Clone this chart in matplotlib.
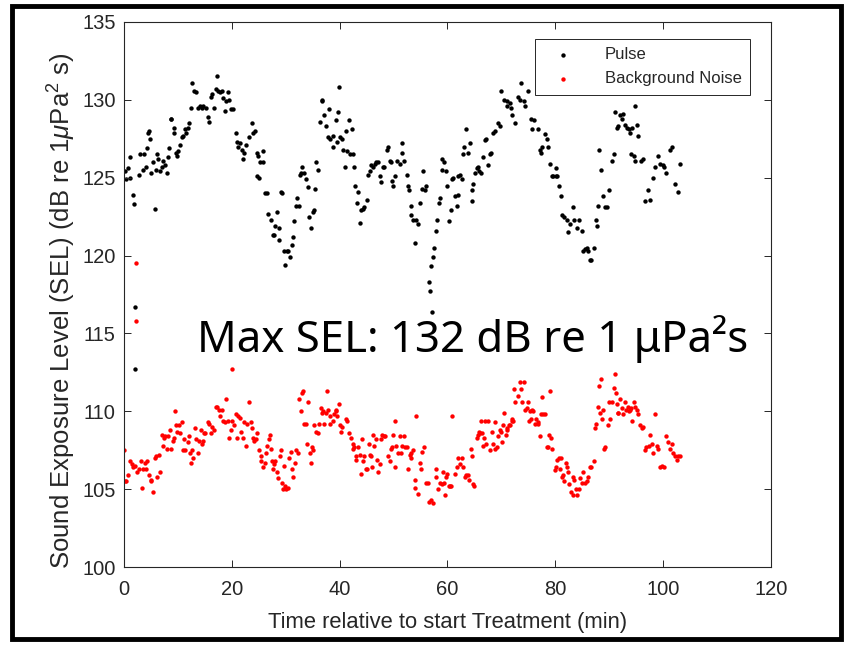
import numpy as np
import matplotlib
matplotlib.use('Agg')
import matplotlib.pyplot as plt
from matplotlib.patches import Rectangle

plt.rcParams['font.family'] = ['Liberation Sans', 'DejaVu Sans']
plt.rcParams['mathtext.fontset'] = 'custom'
plt.rcParams['mathtext.rm'] = 'Liberation Sans'
plt.rcParams['mathtext.it'] = 'Liberation Sans:italic'

# Pulse SEL (time in min, dB re 1 uPa^2 s)
pulse_pts = [
    (0.2,125.4),(0.4,124.9),(0.8,125.6),(1.2,125.0),(1.1,126.3),(1.6,123.9),(1.9,123.3),(2.0,116.7),(2.0,112.7),
    (2.7,125.2),(3.0,126.5),(3.5,125.5),(3.7,126.5),(4.1,125.7),(4.2,126.9),(4.5,127.9),(4.7,128.0),(4.9,127.5),
    (5.1,125.3),(5.3,126.0),(5.7,123.0),(5.9,125.5),(6.2,126.5),(6.4,126.2),(6.7,125.4),(7.0,125.7),(7.3,126.1),
    (7.6,125.8),(7.9,125.3),(8.2,126.3),(8.4,126.9),(8.7,128.8),(8.8,128.8),(9.2,128.2),(9.3,127.9),(9.6,126.6),
    (9.9,126.4),(10.1,126.7),(10.4,127.1),(10.7,127.6),(11.0,127.7),(11.3,128.1),(11.5,127.9),(11.8,128.2),
    (12.1,128.5),(12.4,129.5),(12.7,131.1),(13.0,130.6),(13.4,130.5),(13.8,129.5),(14.1,129.6),(14.4,129.5),
    (14.7,129.6),(15.2,129.5),(15.6,128.9),(15.8,128.6),(16.1,130.2),(16.3,130.4),(16.7,129.5),(17.1,130.7),
    (17.3,131.5),(17.5,130.6),(17.8,130.5),(18.1,130.6),(18.4,130.1),(18.7,129.3),(18.9,129.9),(19.2,130.5),
    (19.5,130.0),(19.8,129.4),(20.3,129.4),(20.8,127.9),(20.9,127.3),(21.2,127.0),(21.5,127.2),(21.8,126.8),
    (22.0,126.2),(22.3,126.6),(22.6,127.1),(23.1,127.6),(23.7,128.5),(24.0,127.9),(24.3,128.0),(24.6,126.6),
    (24.9,126.4),(25.2,126.0),(25.7,126.0),(25.8,126.7),(24.6,125.1),(25.1,125.0),(26.1,124.0),(26.5,124.0),
    (26.8,122.7),(27.2,122.3),(27.6,121.3),(27.8,121.3),(28.0,121.9),(28.3,122.8),(28.8,121.8),(28.7,121.0),
    (29.2,124.1),(29.4,124.0),(29.7,120.3),(29.9,119.4),(30.2,120.3),(30.5,120.3),(30.8,119.9),(31.1,120.7),
    (31.3,121.2),(31.5,122.2),(31.9,123.2),(32.1,123.7),(32.5,123.2),(32.6,125.2),(32.9,125.3),(33.1,125.7),
    (33.4,125.3),(33.8,124.9),(34.2,124.4),(34.4,122.5),(34.6,121.8),(35.0,122.8),(35.2,122.9),(35.4,124.3),
    (35.7,126.0),(36.0,125.5),(36.3,128.6),(36.7,129.9),(36.8,130.0),(37.1,129.0),(37.5,128.3),(37.9,127.6),
    (38.1,129.4),(38.3,127.5),(38.7,127.0),(38.8,127.7),(39.3,128.7),(39.6,127.3),(39.7,129.2),(39.8,130.8),
    (40.1,127.6),(40.4,127.5),(40.7,126.8),(41.0,125.7),(41.2,128.0),(41.3,126.7),(41.8,128.7),(41.9,126.5),
    (42.2,128.1),(42.4,126.5),(42.7,125.7),(42.9,124.5),(43.3,123.4),
    (43.4,124.1),(43.7,122.1),(43.9,122.9),(44.3,123.0),(44.6,123.1),(45.0,123.6),(45.3,125.2),(45.6,125.4),
    (45.9,125.8),(46.2,125.7),(46.5,125.9),(46.8,126.0),(47.1,126.0),(47.4,125.1),(47.6,124.7),(48.0,125.7),
    (48.2,125.7),(48.7,126.8),(49.0,127.0),(49.3,126.1),(49.5,126.0),(49.7,124.8),(49.9,124.5),(50.3,125.1),
    (50.7,126.1),(51.1,125.9),(51.5,126.6),(51.6,127.2),(51.9,126.1),(52.4,125.2),(52.7,124.5),(52.8,124.2),
    (53.2,123.2),(53.3,122.6),(53.6,122.3),(53.9,120.8),(54.2,122.3),(54.6,122.0),(54.9,123.4),(55.2,124.3),
    (55.5,125.4),(55.8,124.2),(56.1,124.5),(56.6,118.3),(56.7,117.7),(57.2,116.4),(56.9,119.3),(57.3,119.9),
    (57.5,120.5),(57.8,121.6),(58.0,122.3),(58.5,123.4),(58.6,123.7),(58.9,126.2),(59.0,125.5),(59.4,126.0),
    (59.8,125.4),(60.0,124.5),(60.2,122.2),(60.6,122.9),(60.9,124.9),(61.1,125.0),(61.4,123.8),(61.7,123.2),
    (61.9,123.9),(62.0,125.1),(62.3,125.2),(62.6,124.9),(62.9,126.5),(63.1,127.0),(63.5,128.1),(63.8,126.6),
    (64.1,127.2),(64.5,124.2),(64.6,123.5),(64.8,124.6),(65.1,125.3),(65.4,125.6),(65.7,125.7),(65.8,125.4),
    (66.3,125.3),(66.6,126.3),(66.9,127.4),(67.2,127.5),(67.6,125.8),(67.9,126.5),(68.0,126.6),(68.5,127.9),
    (68.8,128.0),(69.3,128.5),(69.7,128.3),(70.0,130.6),(70.5,130.0),(71.0,129.9),(71.1,129.6),(71.6,129.8),
    (71.8,129.5),(72.0,129.0),(72.5,128.5),(73.0,130.2),(73.4,130.0),(73.7,131.1),(74.1,129.9),(74.4,129.6),
    (74.9,130.6),(75.5,128.8),(75.7,128.1),(76.1,128.7),(76.7,128.1),(77.2,126.8),(77.3,126.6),(77.6,127.0),
    (78.1,127.8),(78.4,127.5),(78.6,127.0),(79.0,125.9),(79.3,125.1),(79.6,125.1),(80.1,125.1),(80.2,125.6),
    (80.4,125.1),(80.6,124.5),(81.0,123.8),(81.3,122.6),(81.7,122.5),(82.1,122.3),(82.4,121.5),(82.7,122.0),
    (83.2,123.1),(83.5,122.3),(84.0,121.8),(84.3,122.3),(84.9,121.6),(85.2,120.3),(85.5,120.4),(85.8,120.5),
    (86.1,120.3),(86.4,119.7),(86.7,119.7),(87.1,120.5),(87.5,122.3),(87.7,121.9),(87.9,123.2),(88.1,126.8),
    (88.5,125.5),(88.9,123.8),(89.2,123.1),(89.5,123.1),(90.0,124.2),(90.5,126.1),(90.8,126.5),(91.0,129.2),
    (91.4,128.2),(91.6,128.3),(92.0,129.0),(92.3,128.8),(92.6,129.1),(92.9,128.4),(93.3,128.2),(93.6,128.1),
    (93.9,127.9),(94.2,128.2),(94.7,129.6),(95.1,128.4),(95.3,127.7),(94.1,126.5),(94.5,126.4),(94.8,126.1),
    (95.9,126.1),(96.2,126.2),(96.7,123.5),(97.2,124.2),(97.6,123.6),(98.2,125.0),(98.5,125.7),(99.1,126.4),
    (99.4,125.9),(99.9,125.8),(100.2,125.7),(100.5,125.3),(101.3,126.8),(101.6,127.0),(102.2,124.6),
    (102.7,124.1),(103.2,125.9),
]

# Background noise SEL
noise_pts = [
    (0.0,107.5),(0.1,105.5),(0.4,105.5),(0.8,105.9),(1.1,106.8),(1.4,106.6),(1.7,106.4),(2.0,106.5),
    (2.2,119.5),(2.2,115.8),(2.5,106.1),(2.8,106.3),(3.1,106.8),(3.4,105.1),(3.5,106.3),(3.9,106.7),(4.0,106.3),
    (4.3,106.8),(4.6,105.9),(5.0,105.6),(5.1,105.5),(5.4,104.8),(5.8,107.0),(6.0,107.1),(6.2,105.8),(6.5,107.2),
    (6.6,106.1),(7.0,108.5),(7.2,107.8),(7.4,108.3),(7.7,108.4),(8.0,107.6),(8.2,108.4),(8.5,108.8),(8.7,107.6),
    (9.0,108.1),(9.3,108.3),(9.5,110.0),(9.7,109.1),(9.9,108.7),(10.2,109.1),(10.4,108.6),(10.7,109.3),
    (11.0,107.5),(11.1,108.2),(11.4,107.5),(11.8,108.0),(12.1,108.4),(12.2,107.3),(12.4,106.7),(12.7,107.5),
    (12.8,107.0),(13.2,108.9),(13.4,108.2),(13.7,107.3),(13.9,108.1),(14.2,108.8),(14.4,107.9),(14.7,108.1),
    (14.8,108.6),(15.0,108.6),(15.5,109.3),(15.8,109.2),(16.1,108.6),(16.4,109.0),(16.7,108.8),(17.0,110.3),
    (17.3,110.3),(17.6,110.1),(17.9,109.7),(18.1,110.1),(18.4,109.4),(18.7,109.3),(19.0,110.8),(19.2,109.4),
    (19.5,108.3),(19.8,108.8),(20.0,112.7),(20.1,109.4),(20.4,109.1),(20.7,109.8),(21.0,108.3),(21.2,109.7),
    (21.5,109.6),(21.7,108.7),(22.0,108.3),(22.3,109.3),(22.6,107.8),(22.9,109.2),(23.2,110.6),(23.5,109.3),
    (23.7,108.9),(23.9,108.3),(24.1,108.1),(24.4,108.2),(24.7,108.6),(25.1,107.5),(25.4,107.1),(25.5,106.8),
    (25.8,106.4),(26.2,106.7),(26.3,107.3),(26.6,107.8),(26.9,108.2),(27.0,108.5),(27.2,107.6),(27.5,106.8),
    (27.6,106.3),(27.8,106.6),(28.0,106.8),(28.3,106.1),(28.6,105.7),(28.9,107.1),(29.1,107.5),(29.3,105.4),
    (29.5,105.0),(29.7,106.5),(29.9,105.2),(30.1,105.0),(30.5,105.1),(30.6,107.0),(30.9,107.4),(31.1,106.3),
    (31.4,105.8),(31.7,106.7),(31.9,107.5),(32.2,107.3),(32.5,110.8),(32.8,110.0),(33.0,111.2),(33.2,111.3),
    (33.4,109.2),(33.7,109.2),(34.0,107.9),(34.2,110.6),(34.5,107.3),(34.6,106.7),(34.8,107.7),(35.1,107.5),
    (35.3,109.1),(35.6,108.7),(35.9,108.6),(36.2,109.2),(36.5,110.2),(36.7,109.9),(36.9,110.0),(37.1,109.2),
    (37.4,109.9),(37.7,111.3),(37.9,110.1),(38.2,109.7),(38.3,109.2),(38.7,109.4),(39.0,109.8),(39.3,110.1),
    (39.4,110.0),(39.6,109.7),(39.8,110.5),(40.0,109.1),(40.2,108.7),(40.5,109.0),(41.1,109.5),(41.4,109.4),
    (41.7,108.6),(42.1,108.3),(42.4,107.9),(42.5,107.6),(42.7,107.7),(43.0,107.1),(43.1,106.9),
    (43.4,107.7),(43.7,107.2),(43.9,106.0),(44.1,108.2),(44.3,106.8),(44.6,107.1),(44.8,106.3),(45.1,106.3),
    (45.4,107.9),(45.6,107.2),(45.9,107.1),(46.0,106.4),(46.2,108.5),(46.4,107.8),(46.8,108.2),(47.0,106.9),
    (47.2,106.1),(47.4,106.6),(47.7,108.2),(47.9,108.5),(48.2,108.4),(48.5,108.4),(48.9,107.1),(49.3,106.8),
    (49.5,107.6),(49.7,107.7),(49.9,108.5),(50.2,106.4),(50.3,109.4),(50.5,107.8),(50.8,107.3),(51.1,108.4),
    (51.3,107.3),(51.6,107.8),(51.9,108.4),(52.2,107.7),(52.4,107.7),(52.6,106.3),(53.0,107.2),(53.2,107.0),
    (53.3,107.3),(53.6,107.5),(53.9,105.6),(54.0,105.1),(54.2,109.7),(54.5,104.7),(54.9,106.7),(55.0,106.3),
    (55.2,107.4),(55.7,107.7),(56.1,105.4),(56.4,105.4),(56.5,104.2),(56.9,104.3),(57.3,104.1),(57.8,106.3),
    (57.9,105.8),(58.3,105.0),(58.6,105.4),(58.9,105.3),(59.2,106.1),(59.4,105.4),(59.6,104.6),(59.8,105.8),
    (60.0,106.0),(60.2,105.2),(60.4,105.2),(60.7,105.2),(60.9,109.7),(61.4,106.0),(61.7,106.4),(61.9,107.0),
    (62.3,106.6),(62.6,107.0),(62.9,106.4),(63.2,105.8),(63.5,105.9),(63.8,105.9),(63.9,105.6),(64.3,107.6),
    (64.6,107.1),(64.8,105.3),(64.9,105.2),(65.4,108.3),(65.7,108.5),(65.8,108.7),(66.0,108.6),(66.2,109.4),
    (66.4,108.6),(66.6,107.8),(66.8,108.3),(66.9,109.4),(67.2,107.9),(67.5,109.4),(67.9,107.5),(68.2,108.7),
    (68.5,107.9),(68.8,107.6),(68.9,109.3),(69.1,107.7),(69.4,108.4),(69.7,108.8),(69.9,108.7),(70.2,108.0),
    (70.3,109.1),(70.5,109.9),(70.8,108.5),(71.0,108.9),(71.1,108.8),(71.4,109.1),(71.6,109.1),(71.9,109.5),
    (72.0,109.4),(72.2,109.4),(72.4,111.4),(72.6,110.6),(73.0,111.0),(73.4,111.9),(73.6,111.4),(73.9,110.6),
    (74.1,111.9),(74.4,110.1),(74.7,110.2),(75.0,110.6),(75.1,109.4),(75.3,110.0),(75.5,109.5),(75.7,110.1),
    (75.9,110.0),(76.2,109.2),(76.5,109.5),(76.7,109.3),(76.8,109.2),(77.1,108.4),(77.3,109.8),(77.6,110.9),
    (77.8,109.8),(78.1,109.8),(78.4,107.7),(78.6,107.7),(78.8,108.5),(79.0,111.3),(79.2,108.3),(79.4,107.6),
    (79.9,106.2),(80.2,106.4),(80.4,106.9),(80.7,107.0),(80.9,106.3),(81.0,107.0),(81.3,105.8),(81.5,105.9),
    (81.7,105.5),(81.9,106.7),(82.1,106.4),(82.3,106.1),(82.5,105.3),(82.9,104.8),(83.2,104.6),(83.3,105.8),
    (83.5,105.6),(83.8,105.0),(84.0,104.6),(84.3,105.0),(84.6,105.7),(84.9,105.4),(85.2,106.1),(85.5,105.4),
    (85.8,105.5),(86.1,105.8),(86.4,106.4),(86.7,106.4),(87.1,106.8),(87.4,108.9),(87.5,109.2),(87.9,110.3),
    (88.1,111.6),(88.3,109.9),(88.5,112.1),(88.7,109.5),(88.9,110.1),(89.1,107.6),(89.3,107.7),(89.7,109.1),
    (90.0,110.6),(90.2,109.5),(90.5,110.6),(90.8,111.5),(91.0,112.4),(91.2,111.2),(91.4,110.5),(91.6,109.9),
    (91.7,109.9),(92.0,110.8),(92.3,110.2),(92.6,109.8),(92.9,110.6),(93.2,110.1),(93.4,110.3),(93.7,110.0),
    (93.9,110.1),(94.0,110.2),(94.3,109.4),(94.5,110.6),(94.8,110.3),(95.1,110.1),(95.4,109.8),(95.7,109.1),
    (96.0,108.9),(96.3,109.0),(96.6,107.5),(96.9,107.7),(97.3,107.8),(97.6,108.5),(97.9,107.9),(98.2,107.3),
    (98.5,109.8),(98.8,107.8),(99.1,107.6),(99.4,106.4),(99.7,106.5),(100.1,106.4),(100.5,108.4),(100.9,108.0),
    (101.2,107.6),(101.6,107.9),(101.9,107.3),(102.2,107.1),(102.5,106.9),(102.8,107.1),(103.2,107.1),
]

x_ticks = [0, 20, 40, 60, 80, 100, 120]
y_ticks = [100, 105, 110, 115, 120, 125, 130, 135]
max_sel = 132

pulse = np.array(pulse_pts)
noise = np.array(noise_pts)

ink = '#262626'
fig = plt.figure(figsize=(8.48, 6.45), dpi=100)
ax = fig.add_axes([0.1462, 0.1209, 0.7630, 0.8450])

ax.scatter(pulse[:, 0], pulse[:, 1], s=10, c='k', linewidths=0, label='Pulse')
ax.scatter(noise[:, 0], noise[:, 1], s=10, c='r', linewidths=0, label='Background Noise')

ax.set_xlim(0, 120)
ax.set_ylim(100, 135)
ax.set_xticks(x_ticks)
ax.set_yticks(y_ticks)
ax.tick_params(direction='in', top=True, right=True, length=5, width=0.7,
               colors=ink, labelsize=14.5)
ax.tick_params(axis='x', pad=9)
ax.tick_params(axis='y', pad=6)
for sp in ax.spines.values():
    sp.set_color(ink)
    sp.set_linewidth(0.8)

ax.set_xlabel('Time relative to start Treatment (min)', fontsize=15.8, color=ink)
ax.xaxis.set_label_coords(0.5, -0.082)
ax.set_ylabel(r'Sound Exposure Level (SEL) (dB re 1$\mu$Pa$^2$ s)', fontsize=18.5, color=ink)
ax.yaxis.set_label_coords(-0.071, 0.47)

leg = ax.legend(loc='upper right', bbox_to_anchor=(0.9675, 0.9688), borderaxespad=0,
                fontsize=12, frameon=True, fancybox=False, framealpha=1,
                markerscale=1.0, handletextpad=1.3, handlelength=2.4,
                borderpad=0.5, labelspacing=0.55)
leg.get_frame().set_edgecolor(ink)
leg.get_frame().set_linewidth(0.7)
for t in leg.get_texts():
    t.set_color(ink)

ax.text(13.5, 113.8, f'Max SEL: {max_sel} dB re 1 \u03bcPa\u00b2s', fontsize=31.5,
        family=['Noto Sans', 'DejaVu Sans'], color='k', ha='left', va='baseline')

# black frame around the whole picture
fig.patches.append(Rectangle((12 / 848, 6 / 645), 829 / 848, 633 / 645, transform=fig.transFigure,
                             fill=False, edgecolor='k', linewidth=3.5, zorder=10))

fig.savefig('out.png', dpi=100)
